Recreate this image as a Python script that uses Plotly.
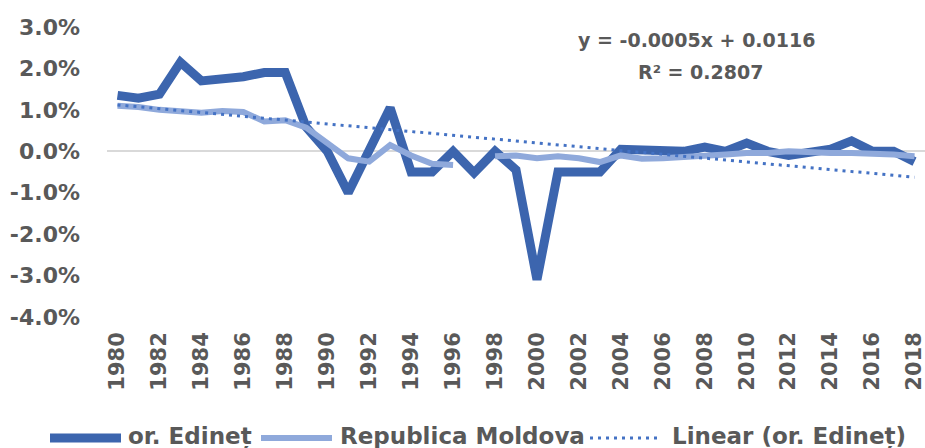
import numpy as np
import plotly.graph_objects as go

years = list(range(1980, 2019))
edinet = [1.35, 1.28, 1.38, 2.15, 1.70, 1.73, 1.80, 1.90, 1.90, 0.58,
          0.00, -1.00, 0.00, 1.05, -0.50, -0.50, 0.00, -0.52, 0.00, -0.45,
          -3.10, -0.50, -0.50, -0.50, 0.05, 0.05, 0.05, 0.00, 0.10, 0.00,
          0.20, 0.00, -0.10, 0.00, 0.05, 0.25, 0.00, 0.00, -0.25]
moldova = [1.10, 1.07, 1.00, 0.95, 0.93, 0.97, 0.95, 0.72, 0.75, 0.57,
           0.18, -0.17, -0.25, 0.15, -0.10, -0.30, -0.33, None, -0.12, -0.10,
           -0.17, -0.12, -0.17, -0.26, -0.10, -0.18, -0.17, -0.15, -0.10, -0.08,
           -0.04, -0.04, 0.00, -0.03, -0.04, -0.04, -0.05, -0.08, -0.12]
tick_years = list(range(1980, 2019, 2))
y_ticks = [3, 2, 1, 0, -1, -2, -3, -4]
legend_names = ["or. Edineț", "Republica Moldova", "Linear (or. Edineț)"]
equation_text = "y = -0.0005x + 0.0116"
r2_text = "R² = 0.2807"

# linear trend fitted to or. Edineț (x = 1..n as in Excel)
idx = np.arange(1, len(years) + 1)
slope, intercept = np.polyfit(idx, np.array(edinet), 1)
trend = slope * idx + intercept

DARK = "#3C65AE"
LIGHT = "#8FA9DB"
TREND = "#4472C4"
TXT = "#595959"
FONT = "DejaVu Sans"

W, H = 925, 448
L, R, T, B = 107, 925, 27, 317

def px(x):
    return (x - L) / (R - L)

def py(y):
    return (B - y) / (B - T)

fig = go.Figure()
fig.add_trace(go.Scatter(x=years, y=edinet, mode="lines", name=legend_names[0],
                         line=dict(color=DARK, width=9), showlegend=False))
fig.add_trace(go.Scatter(x=years, y=moldova, mode="lines", name=legend_names[1],
                         line=dict(color=LIGHT, width=6), connectgaps=False,
                         showlegend=False))
fig.add_trace(go.Scatter(x=years, y=trend, mode="lines", name=legend_names[2],
                         line=dict(color=TREND, width=3, dash="3px,5px"),
                         showlegend=False))

# custom legend
leg_y = 438
shapes = [
    dict(type="line", xref="paper", yref="paper", x0=px(50), x1=px(121),
         y0=py(leg_y), y1=py(leg_y), line=dict(color=DARK, width=9)),
    dict(type="line", xref="paper", yref="paper", x0=px(261), x1=px(332),
         y0=py(leg_y), y1=py(leg_y), line=dict(color=LIGHT, width=6)),
    dict(type="line", xref="paper", yref="paper", x0=px(590), x1=px(660),
         y0=py(leg_y), y1=py(leg_y), line=dict(color=TREND, width=3, dash="3px,5px")),
]
annotations = []
for name, x0 in zip(legend_names, [126, 338, 670]):
    annotations.append(dict(text="<b>%s</b>" % name, xref="paper", yref="paper",
                            x=px(x0), y=py(436), xanchor="left", yanchor="middle",
                            showarrow=False, font=dict(family=FONT, size=23, color=TXT)))
annotations.append(dict(text="<b>%s</b>" % equation_text, xref="paper", yref="paper",
                        x=px(696), y=py(40), xanchor="center", yanchor="middle",
                        showarrow=False, font=dict(family=FONT, size=19, color=TXT)))
annotations.append(dict(text="<b>%s</b>" % r2_text, xref="paper", yref="paper",
                        x=px(700), y=py(72), xanchor="center", yanchor="middle",
                        showarrow=False, font=dict(family=FONT, size=19, color=TXT)))

fig.update_layout(
    width=W, height=H,
    margin=dict(l=L, r=W - R, t=T, b=H - B, pad=0),
    paper_bgcolor="white", plot_bgcolor="white",
    shapes=shapes, annotations=annotations,
    showlegend=False,
)
fig.update_xaxes(range=[1979.5, 2018.5], tickvals=tick_years, ticktext=[str(v) for v in tick_years],
                 tickangle=-90, showgrid=False, zeroline=False, showline=False, ticks="",
                 ticklabelstandoff=10, ticklabeloverflow="allow",
                 tickfont=dict(family=FONT, size=21, color=TXT, weight="bold"))
fig.update_yaxes(range=[-4, 3], tickvals=y_ticks, ticktext=["%.1f%%" % v for v in y_ticks],
                 showgrid=False, zeroline=True, zerolinecolor="#D9D9D9", zerolinewidth=2,
                 showline=False, ticks="", ticklabelstandoff=26,
                 tickfont=dict(family=FONT, size=22, color=TXT, weight="bold"))

fig.write_html("out.html", config={"displayModeBar": False},
               post_script="document.body.style.margin='0';document.body.style.padding='0';")
